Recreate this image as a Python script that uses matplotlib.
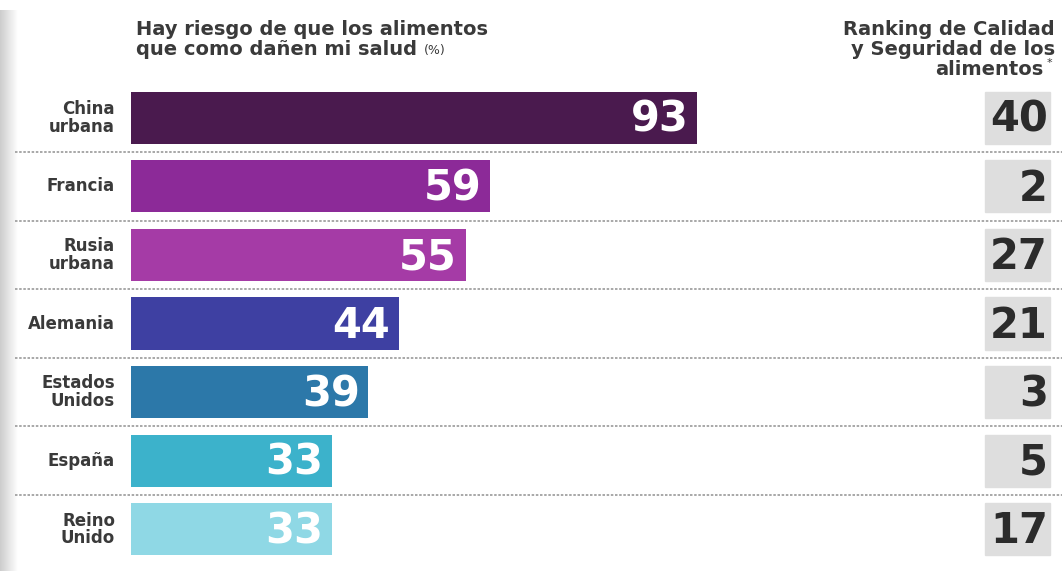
import numpy as np
import matplotlib
matplotlib.use("Agg")
from matplotlib import pyplot as plt

# datos
paises = ["China\nurbana", "Francia", "Rusia\nurbana", "Alemania",
          "Estados\nUnidos", "España", "Reino\nUnido"]
riesgo = [93, 59, 55, 44, 39, 33, 33]
ranking = [40, 2, 27, 21, 3, 5, 17]
colores = ["#4a1a4e", "#8c2a98", "#a53ba6", "#3e40a2",
           "#2c78a9", "#3cb2cb", "#8fd8e5"]
titulo_izq = ["Hay riesgo de que los alimentos", "que como dañen mi salud"]
titulo_der = ["Ranking de Calidad", "y Seguridad de los", "alimentos"]

plt.rcParams["font.family"] = ["DejaVu Sans"]
texto = "#3a3a3a"

fig = plt.figure(figsize=(10.62, 5.71), dpi=100)
ax = fig.add_axes([0, 0, 1, 1])
ax.set_xlim(-21.5, 153.0)
ax.set_ylim(6.61, -1.72)
ax.axis("off")

# franja gris a la izquierda
grad = np.linspace(0.80, 1.0, 64).reshape(1, -1)
ax.imshow(grad, cmap="gray", vmin=0, vmax=1, aspect="auto",
          extent=(-21.5, -18.6, 6.61, -1.57), zorder=0)

y = np.arange(len(paises))
ax.barh(y, riesgo, height=0.76, color=colores, zorder=2)

for i, (v, r) in enumerate(zip(riesgo, ranking)):
    ax.text(v - 1.4, i + 0.03, str(v), ha="right", va="center",
            color="white", fontsize=30, fontweight="bold", zorder=3)
    ax.add_patch(plt.Rectangle((140.3, i - 0.38), 10.7, 0.76,
                               color="#dedede", zorder=2))
    ax.text(150.7, i + 0.03, str(r), ha="right", va="center",
            color="#2b2b2b", fontsize=30, fontweight="bold", zorder=3)
    ax.text(-2.6, i, paises[i], ha="right", va="center", color=texto,
            fontsize=12, fontweight="bold", linespacing=0.95)

# separadores punteados
for s in y[:-1] + 0.5:
    ax.plot([-19.0, 153.0], [s, s], color="#9a9a9a", lw=1.2,
            linestyle=(0, (1.5, 1)), zorder=1)

# encabezados
for k, linea in enumerate(titulo_izq):
    t = ax.text(0.8, -1.285 + 0.285 * k, linea, ha="left", va="center",
                color=texto, fontsize=14, fontweight="bold")
ax.annotate("(%)", xy=(1, 0.45), xycoords=t, xytext=(5, 0),
            textcoords="offset points", ha="left", va="center",
            color=texto, fontsize=9)

for k, linea in enumerate(titulo_der):
    xd = 151.8 if k < 2 else 150.0
    t = ax.text(xd, -1.285 + 0.29 * k, linea, ha="right", va="center",
                color=texto, fontsize=14, fontweight="bold")
ax.annotate("*", xy=(1, 0.85), xycoords=t, xytext=(2, 0),
            textcoords="offset points", ha="left", va="center",
            color=texto, fontsize=8)

fig.savefig("out.png", dpi=100, facecolor="white")
